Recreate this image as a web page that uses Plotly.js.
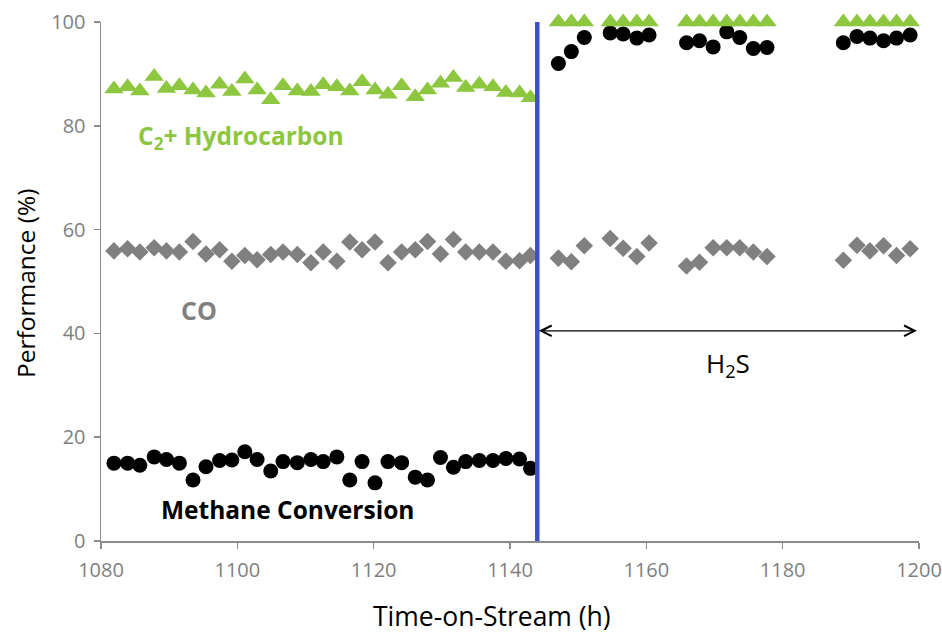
<!DOCTYPE html>
<html>
<head>
<meta charset="utf-8">
<script src="https://cdn.plot.ly/plotly-3.0.1.min.js"></script>
<style>
  html, body { margin: 0; padding: 0; background: #fff; }
  #chart { width: 942px; height: 634px; }
</style>
</head>
<body>
<div id="chart"></div>
<script>
// Time-on-stream (h)
const timeH = [1081.9,1083.9,1085.7,1087.8,1089.6,1091.5,1093.5,1095.4,1097.4,1099.2,1101.1,1102.9,1104.9,1106.7,1108.8,1110.8,1112.6,1114.6,1116.5,1118.3,1120.2,1122.1,1124.1,1126.1,1127.9,1129.8,1131.7,1133.5,1135.5,1137.5,1139.4,1141.4,1143.0,
               1147.1,1149.0,1150.9,1154.7,1156.6,1158.6,1160.4,1165.9,1167.8,1169.8,1171.8,1173.7,1175.7,1177.7,1188.9,1190.9,1192.8,1194.8,1196.7,1198.7];
// C2+ hydrocarbon selectivity (%)
const c2Hydrocarbon = [87.1,87.5,86.7,89.5,87.2,87.7,86.9,86.3,88.0,86.6,89.0,86.9,85.0,87.7,86.7,86.6,87.9,87.5,86.7,88.5,86.9,86.1,87.7,85.6,86.9,88.2,89.3,87.4,88.0,87.5,86.4,86.3,85.4,
                       100,100,100,100,100,100,100,100,100,100,100,100,100,100,100,100,100,100,100,100];
// CO selectivity (%)
const coSel = [55.9,56.3,55.7,56.5,55.9,55.7,57.7,55.3,56.1,53.9,55.0,54.2,55.2,55.7,55.2,53.6,55.7,53.9,57.6,56.1,57.6,53.6,55.7,56.1,57.7,55.3,58.1,55.7,55.7,55.7,53.9,54.0,55.0,
               54.5,53.8,56.9,58.3,56.4,54.8,57.4,53.0,53.7,56.5,56.5,56.5,55.7,54.8,54.1,57.0,55.9,56.9,55.0,56.3];
// Methane conversion (%)
const methaneConv = [15.0,15.0,14.6,16.2,15.7,15.0,11.75,14.3,15.5,15.6,17.2,15.7,13.5,15.3,15.1,15.7,15.3,16.2,11.75,15.3,11.2,15.3,15.1,12.3,11.75,16.1,14.2,15.3,15.5,15.5,15.9,15.8,14.0,
                     92.0,94.3,97.0,97.9,97.7,96.9,97.5,96.0,96.4,95.2,98.1,97.0,94.9,95.1,96.0,97.2,96.9,96.4,96.9,97.5];
// H2S introduced at (h)
const h2sStart = 1144;
const h2sEnd = 1200;

const xTicks = [1080,1100,1120,1140,1160,1180,1200];
const yTicks = [0,20,40,60,80,100];

const FONT = 'Open Sans, Liberation Sans, sans-serif';
const GREEN = '#8DC63F';
const GRAY = '#808080';

const traces = [
  { x: timeH, y: coSel, type: 'scatter', mode: 'markers', name: 'CO',
    marker: { symbol: 'diamond', size: 13.5, color: GRAY }, cliponaxis: false },
  { x: timeH, y: methaneConv, type: 'scatter', mode: 'markers', name: 'Methane Conversion',
    marker: { symbol: 'circle', size: 15, color: '#000000' }, cliponaxis: false },
  { x: timeH, y: c2Hydrocarbon, type: 'scatter', mode: 'markers', name: 'C2+ Hydrocarbon',
    marker: { symbol: 'triangle-up', size: 17, color: GREEN }, cliponaxis: false }
];

const layout = {
  width: 942, height: 634,
  margin: { l: 101, r: 23, t: 22, b: 93 },
  paper_bgcolor: '#ffffff', plot_bgcolor: '#ffffff',
  showlegend: false,
  font: { family: FONT, color: '#000' },
  xaxis: {
    range: [1080, 1200], tickvals: xTicks, ticktext: xTicks.map(String),
    automargin: false,
    showgrid: false, zeroline: false, showline: true, linecolor: '#8c8c8c', linewidth: 1.5,
    ticks: 'outside', ticklen: 6, tickcolor: '#8c8c8c', tickwidth: 1.5,
    ticklabelstandoff: 4,
    tickfont: { family: FONT, size: 20, color: '#7f7f7f' }
  },
  yaxis: {
    range: [0, 100], tickvals: yTicks, ticktext: yTicks.map(String),
    automargin: false,
    showgrid: false, zeroline: false, showline: true, linecolor: '#8c8c8c', linewidth: 1.5,
    ticks: 'outside', ticklen: 6, tickcolor: '#8c8c8c', tickwidth: 1.5,
    ticklabelstandoff: 4,
    tickfont: { family: FONT, size: 20, color: '#7f7f7f' }
  },
  shapes: [
    { type: 'line', xref: 'x', yref: 'paper', x0: h2sStart, x1: h2sStart, y0: 0, y1: 1,
      line: { color: '#3F4FCB', width: 4.5 } }
  ],
  annotations: [
    // axis titles
    { xref: 'paper', yref: 'paper', x: 0.478, y: -0.144, showarrow: false,
      xanchor: 'center', yanchor: 'middle',
      text: 'Time-on-Stream (h)', font: { family: FONT, size: 26.5, color: '#000' } },
    { xref: 'paper', yref: 'paper', x: -0.093, y: 0.497, showarrow: false, textangle: -90,
      xanchor: 'center', yanchor: 'middle',
      text: 'Performance (%)', font: { family: FONT, size: 24.5, color: '#000' } },
    // H2S arrow
    { x: h2sEnd - 0.3, y: 40.5, ax: h2sStart, ay: 40.5, xref: 'x', yref: 'y', axref: 'x', ayref: 'y',
      showarrow: true, arrowside: 'end+start', arrowhead: 5, startarrowhead: 5,
      arrowsize: 1.6, startarrowsize: 1.6, arrowwidth: 1.3, arrowcolor: '#000', text: '' },
    { x: 1172.0, y: 34.1, xref: 'x', yref: 'y', showarrow: false,
      text: 'H<sub>2</sub>S', font: { family: FONT, size: 26, color: '#000' } },
    { x: 1100.5, y: 77.8, xref: 'x', yref: 'y', showarrow: false,
      text: '<b>C<sub>2</sub>+ Hydrocarbon</b>', font: { family: FONT, size: 24.5, color: GREEN } },
    { x: 1094.4, y: 44.5, xref: 'x', yref: 'y', showarrow: false,
      text: '<b>CO</b>', font: { family: FONT, size: 25, color: GRAY } },
    { x: 1107.4, y: 6.0, xref: 'x', yref: 'y', showarrow: false,
      text: '<b>Methane Conversion</b>', font: { family: FONT, size: 24.5, color: '#000' } }
  ]
};

Plotly.newPlot('chart', traces, layout, { displayModeBar: false, staticPlot: true });
</script>
</body>
</html>
